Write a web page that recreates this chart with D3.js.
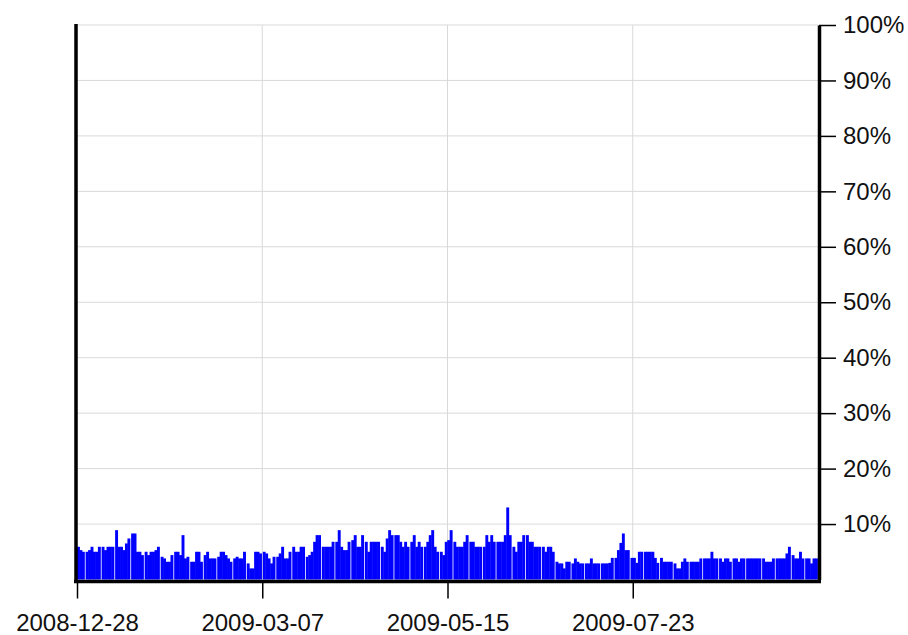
<!DOCTYPE html>
<html>
<head>
<meta charset="utf-8">
<script src="https://cdn.jsdelivr.net/npm/d3@7"></script>
<style>
  body { margin: 0; background: #fff; }
  svg { display: block; font-family: "Liberation Sans", Arial, sans-serif; }
</style>
</head>
<body>
<svg id="chart" width="908" height="635"></svg>
<script>
// one value per day, starting 2008-12-28 (percent)
const startDate = '2008-12-28';
const endDate = '2009-09-30';
const share = [
  5.9, 5.3, 5.0, 5.0, 5.3, 5.9, 5.0, 5.0, 5.9, 5.9,
  5.3, 5.9, 5.9, 5.9, 8.9, 5.9, 5.9, 5.3, 6.5, 7.4,
  8.3, 8.3, 5.0, 5.0, 4.4, 5.0, 4.4, 5.0, 5.0, 5.3,
  5.9, 4.1, 3.8, 3.2, 3.2, 4.4, 5.0, 5.0, 4.4, 8.0,
  3.8, 4.1, 3.2, 3.2, 5.0, 5.0, 3.2, 4.4, 5.0, 3.8,
  3.8, 3.8, 4.1, 5.0, 5.0, 4.4, 3.8, 3.2, 3.8, 4.1,
  3.8, 3.8, 5.0, 2.9, 2.0, 2.0, 5.0, 5.0, 4.7, 5.0,
  4.7, 3.8, 2.9, 4.1, 4.1, 4.7, 5.9, 3.8, 3.8, 5.0,
  5.9, 5.0, 5.0, 5.9, 5.9, 4.1, 4.4, 5.0, 6.8, 8.0,
  8.0, 5.9, 5.9, 5.9, 5.9, 6.8, 6.8, 8.9, 5.9, 5.3,
  5.3, 6.8, 7.1, 8.0, 5.9, 5.9, 8.0, 6.8, 5.0, 6.8,
  6.8, 6.8, 6.8, 5.9, 5.0, 7.4, 8.9, 8.0, 8.0, 8.0,
  6.8, 5.9, 6.8, 5.9, 6.8, 8.0, 5.9, 6.8, 5.9, 5.9,
  6.8, 8.0, 8.9, 5.9, 5.0, 5.0, 4.4, 6.8, 7.1, 8.9,
  6.8, 5.9, 5.9, 5.9, 6.8, 8.0, 6.8, 6.8, 5.9, 5.9,
  5.9, 5.9, 8.0, 6.8, 8.0, 6.8, 6.8, 6.8, 6.8, 8.0,
  13.0, 8.0, 5.9, 5.0, 6.8, 6.8, 8.0, 8.0, 6.8, 6.8,
  5.9, 5.9, 5.9, 5.9, 5.0, 5.9, 5.9, 5.0, 3.2, 2.9,
  2.9, 2.0, 3.2, 3.2, 2.9, 3.8, 3.2, 2.9, 2.9, 2.9,
  2.9, 3.8, 2.9, 2.9, 2.9, 2.9, 2.9, 2.9, 3.0, 3.9,
  3.9, 5.3, 6.6, 8.3, 5.3, 5.3, 3.9, 3.9, 3.0, 5.0,
  5.0, 5.0, 5.0, 5.0, 5.0, 3.9, 3.0, 3.9, 3.2, 3.2,
  3.2, 3.2, 2.9, 2.0, 2.0, 3.2, 3.8, 3.2, 3.2, 3.2,
  3.2, 3.2, 3.8, 3.8, 3.8, 3.8, 5.0, 3.8, 3.8, 3.8,
  3.2, 3.8, 3.8, 3.2, 3.8, 3.8, 3.2, 3.8, 3.8, 3.8,
  3.8, 3.8, 3.8, 3.8, 3.8, 3.8, 3.2, 3.2, 3.2, 3.8,
  3.8, 3.8, 3.8, 3.8, 4.7, 5.9, 4.4, 3.8, 3.8, 5.0,
  3.8, 3.8, 3.8, 2.9, 3.8, 3.8
];
const dateTicks = ['2008-12-28', '2009-03-07', '2009-05-15', '2009-07-23'];
const pctTicks = [10, 20, 30, 40, 50, 60, 70, 80, 90, 100];

const parse = d3.utcParse('%Y-%m-%d');
const t0 = parse(startDate);
const data = share.map((v, i) => ({ date: d3.utcDay.offset(t0, i), value: v }));

const plotLeft = 77, plotRight = 818, plotTop = 25, plotBottom = 579.5;

const svg = d3.select('#chart');

const x = d3.scaleUtc()
  .domain([t0, parse(endDate)])
  .range([plotLeft, plotRight]);

const y = d3.scaleLinear()
  .domain([0, 100])
  .range([plotBottom, plotTop]);

// grid
const grid = svg.append('g').attr('stroke', '#d9d9d9').attr('stroke-width', 1);
grid.selectAll('line.h')
  .data(pctTicks)
  .enter().append('line')
  .attr('class', 'h')
  .attr('x1', plotLeft).attr('x2', plotRight)
  .attr('y1', d => y(d)).attr('y2', d => y(d));
grid.selectAll('line.v')
  .data(dateTicks.map(parse))
  .enter().append('line')
  .attr('class', 'v')
  .attr('x1', d => x(d)).attr('x2', d => x(d))
  .attr('y1', plotTop).attr('y2', plotBottom);

// the original looks like a small bar chart scaled up, bars snap to its pixels
// so a thin white seam shows every few bars
const srcPx = 1.23;
const snap = v => plotLeft + Math.round((v - plotLeft) / srcPx) * srcPx;
const barW = Math.floor((x(data[1].date) - x(data[0].date)) / srcPx) * srcPx;

svg.append('g')
  .selectAll('rect')
  .data(data)
  .enter().append('rect')
  .attr('x', d => snap(x(d.date)))
  .attr('y', d => y(d.value))
  .attr('width', barW + 0.45)
  .attr('height', d => plotBottom - y(d.value))
  .attr('fill', '#0000ff');

// left axis (plain line)
svg.append('line')
  .attr('x1', plotLeft - 1).attr('x2', plotLeft - 1)
  .attr('y1', plotTop - 1).attr('y2', plotBottom + 3)
  .attr('stroke', '#000').attr('stroke-width', 3.5);

// right axis
const yAxis = svg.append('g')
  .attr('transform', `translate(${plotRight + 1},0)`)
  .call(d3.axisRight(y)
    .tickValues(pctTicks)
    .tickSize(17)
    .tickSizeOuter(0)
    .tickPadding(7)
    .tickFormat(d => d + '%'));
yAxis.select('.domain').attr('stroke-width', 3.5);
yAxis.selectAll('.tick line').attr('stroke-width', 1.5);
yAxis.selectAll('.tick text')
  .attr('font-size', 24)
  .attr('fill', '#111');

// bottom axis
const xAxis = svg.append('g')
  .attr('transform', `translate(0,${plotBottom + 2})`)
  .call(d3.axisBottom(x)
    .tickValues(dateTicks.map(parse))
    .tickSize(17)
    .tickSizeOuter(0)
    .tickPadding(15)
    .tickFormat(d3.utcFormat('%Y-%m-%d')));
xAxis.select('.domain')
  .attr('stroke-width', 3.5)
  .attr('d', `M${plotLeft - 3},0H${plotRight + 3}`);
xAxis.selectAll('.tick line').attr('stroke-width', 1.5);
xAxis.selectAll('.tick text')
  .attr('font-size', 24)
  .attr('fill', '#111');
</script>
</body>
</html>
